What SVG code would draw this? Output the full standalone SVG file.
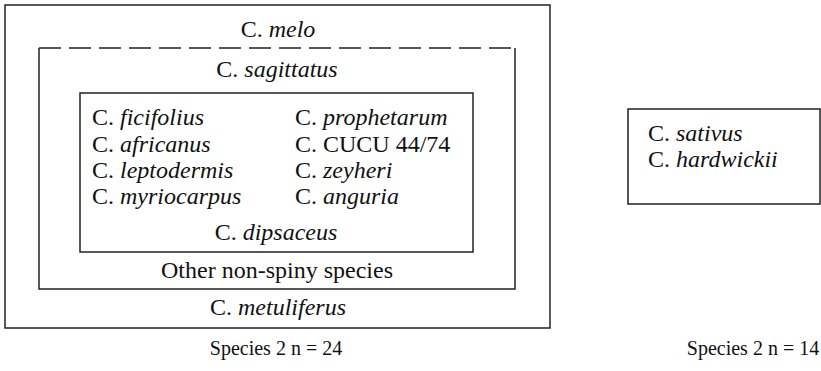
<svg xmlns="http://www.w3.org/2000/svg" width="821" height="371" viewBox="0 0 821 371">
<style>
.box{fill:none;stroke:#222;stroke-width:1.5}
.dash{fill:none;stroke:#222;stroke-width:1.5;stroke-dasharray:22 8}
text{font-family:"Liberation Serif","Times New Roman",serif;font-size:24px;fill:#111}
.c{text-anchor:middle}
.i{font-style:italic}
.s{font-size:20px}
</style>
<rect width="821" height="371" fill="#fff"/>
<g id="outer">
<rect class="box" x="5" y="5" width="545" height="323"/>
<text class="c" x="278" y="37">C. <tspan class="i">melo</tspan></text>
<text class="c" x="278" y="315">C. <tspan class="i">metuliferus</tspan></text>
</g>
<g id="middle">
<path class="dash" d="M39,48 H515"/>
<path class="box" d="M515,48 V289 H39 V48"/>
<text class="c" x="277" y="77">C. <tspan class="i">sagittatus</tspan></text>
<text class="c" x="277" y="278">Other non-spiny species</text>
</g>
<g id="inner">
<rect class="box" x="80" y="93" width="393" height="159"/>
<text x="92" y="125">C. <tspan class="i">ficifolius</tspan></text>
<text x="92" y="152">C. <tspan class="i">africanus</tspan></text>
<text x="92" y="178">C. <tspan class="i">leptodermis</tspan></text>
<text x="92" y="204">C. <tspan class="i">myriocarpus</tspan></text>
<text x="295" y="125">C. <tspan class="i">prophetarum</tspan></text>
<text x="295" y="152">C. CUCU 44/74</text>
<text x="295" y="178">C. <tspan class="i">zeyheri</tspan></text>
<text x="295" y="204">C. <tspan class="i">anguria</tspan></text>
<text class="c" x="276" y="240">C. <tspan class="i">dipsaceus</tspan></text>
</g>
<g id="right">
<rect class="box" x="628" y="109" width="192" height="95"/>
<text x="648" y="141">C. <tspan class="i">sativus</tspan></text>
<text x="648" y="167">C. <tspan class="i">hardwickii</tspan></text>
</g>
<g id="labels">
<text class="c s" x="276" y="355">Species 2 n = 24</text>
<text class="c s" x="753" y="355">Species 2 n = 14</text>
</g>
<g id="connectors"></g>
</svg>
